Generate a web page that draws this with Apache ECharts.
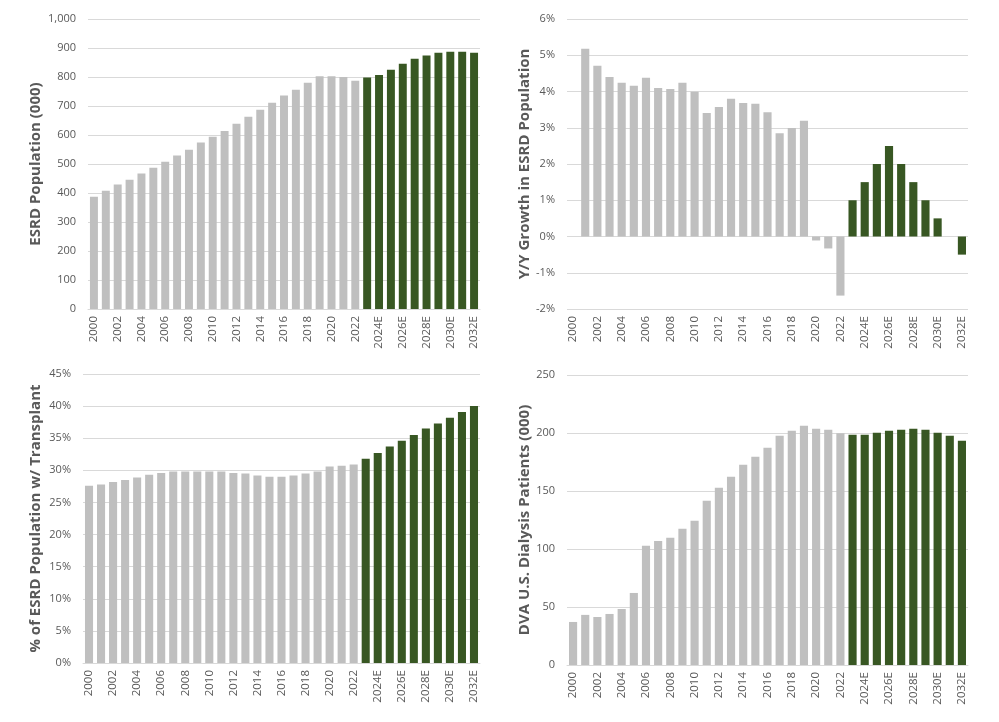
<!DOCTYPE html>
<html>
<head>
<meta charset="utf-8">
<script src="https://cdn.jsdelivr.net/npm/echarts@6/dist/echarts.min.js"></script>
<style>
  html, body { margin: 0; padding: 0; background: #fff; }
  #chart { width: 999px; height: 722px; }
</style>
</head>
<body>
<div id="chart"></div>
<script>
const years = [
  '2000', '2001', '2002', '2003', '2004', '2005', '2006', '2007', '2008', '2009',
  '2010', '2011', '2012', '2013', '2014', '2015', '2016', '2017', '2018', '2019',
  '2020', '2021', '2022', '2023E', '2024E', '2025E', '2026E', '2027E', '2028E', '2029E',
  '2030E', '2031E', '2032E'
]
// first projected year (green bars start here)
const forecastStart = 23

const esrdPopulation = [
  387, 408, 429, 446, 467, 487, 508, 529, 549, 574,
  594, 614, 639, 663, 687, 711, 736, 756, 780, 803,
  803, 800, 787, 798, 807, 825, 846, 863, 874, 884,
  887, 887, 884
]

const yoyGrowth = [
  null, 5.18, 4.71, 4.40, 4.24, 4.16, 4.38, 4.10, 4.07, 4.24,
  3.99, 3.41, 3.57, 3.80, 3.68, 3.66, 3.43, 2.85, 2.99, 3.19,
  -0.11, -0.33, -1.63, 1.0, 1.5, 2.0, 2.5, 2.0, 1.5, 1.0,
  0.5, 0, -0.5
]

const transplantShare = [
  27.6, 27.8, 28.2, 28.5, 28.9, 29.3, 29.6, 29.8, 29.8, 29.8,
  29.8, 29.8, 29.6, 29.5, 29.2, 29.0, 29.0, 29.2, 29.5, 29.8,
  30.6, 30.7, 30.9, 31.8, 32.7, 33.7, 34.6, 35.5, 36.5, 37.3,
  38.2, 39.1, 40.0
]

const dvaPatients = [
  37.1, 43.2, 41.4, 44.0, 48.3, 62.1, 102.7, 107.0, 109.6, 117.4,
  124.3, 141.5, 152.8, 162.3, 172.6, 179.5, 187.3, 197.6, 202.0, 206.3,
  203.7, 202.8, 199.7, 198.5, 198.5, 200.2, 202.0, 202.8, 203.7, 202.8,
  200.2, 197.6, 193.3
]

const GRAY = '#bfbfbf'
const GREEN = '#385723'
const TEXT = '#595959'
const GRIDLINE = '#d9d9d9'
const FONT = 'Open Sans'

const chart = echarts.init(document.getElementById('chart'))

function xAxis(gridIndex) {
  return {
    type: 'category',
    gridIndex,
    data: years.map(y => y.startsWith('2023') ? '2023' : y),
    axisTick: { show: false },
    axisLine: { show: gridIndex !== 1, onZero: false, lineStyle: { color: GRIDLINE } },
    axisLabel: {
      interval: 1,
      rotate: 90,
      color: TEXT,
      fontFamily: FONT,
      fontSize: 11.5,
      margin: 7
    }
  }
}

function yAxis(gridIndex, name, min, max, interval, formatter, nameGap) {
  return {
    type: 'value',
    gridIndex,
    min,
    max,
    interval,
    name,
    nameLocation: 'middle',
    nameRotate: 90,
    nameGap,
    nameTextStyle: { color: TEXT, fontFamily: FONT, fontSize: 15, fontWeight: 'bold' },
    axisLine: { show: false },
    axisTick: { show: false },
    axisLabel: { color: TEXT, fontFamily: FONT, fontSize: 11, margin: 12, formatter },
    splitLine: { lineStyle: { color: GRIDLINE } }
  }
}

function barSeries(idx, data) {
  return {
    type: 'bar',
    xAxisIndex: idx,
    yAxisIndex: idx,
    data,
    barCategoryGap: '33%',
    itemStyle: { color: p => (p.dataIndex >= forecastStart ? GREEN : GRAY) },
    animation: false
  }
}

chart.setOption({
  animation: false,
  grid: [
    { left: 88, right: 519, top: 19, height: 290 },
    { left: 567, right: 31, top: 19, height: 290 },
    { left: 83, right: 519, top: 374, height: 289 },
    { left: 567, right: 31, top: 375, height: 290 }
  ],
  xAxis: [xAxis(0), xAxis(1), xAxis(2), xAxis(3)],
  yAxis: [
    yAxis(0, 'ESRD Population (000)', 0, 1000, 100,
      v => v.toLocaleString('en-US'), 45),
    yAxis(1, 'Y/Y Growth in ESRD Population', -2, 6, 1, v => v + '%', 35),
    yAxis(2, '% of ESRD Population w/ Transplant', 0, 45, 5, v => v + '%', 40),
    yAxis(3, 'DVA U.S. Dialysis Patients (000)', 0, 250, 50, v => v, 35)
  ],
  series: [
    barSeries(0, esrdPopulation),
    barSeries(1, yoyGrowth),
    barSeries(2, transplantShare),
    barSeries(3, dvaPatients)
  ]
})
</script>
</body>
</html>
